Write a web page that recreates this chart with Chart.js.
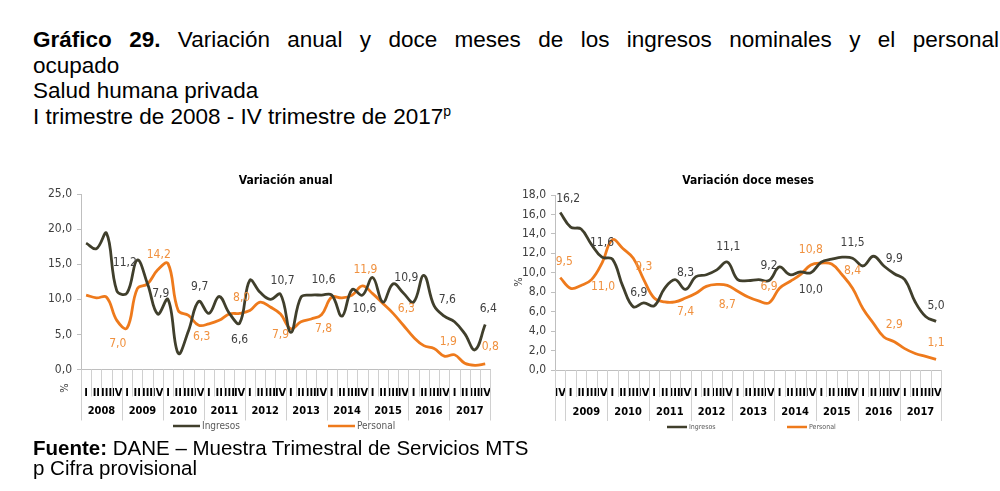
<!DOCTYPE html>
<html>
<head>
<meta charset="utf-8">
<script src="https://cdn.jsdelivr.net/npm/chart.js@4.4.1/dist/chart.umd.min.js"></script>
<style>
  body { margin: 0; width: 1000px; height: 491px; background: #fff; position: relative; overflow: hidden;
         font-family: 'Liberation Sans', Arial, sans-serif; color: #000; }
  #title { position: absolute; left: 33px; top: 27px; width: 966px; font-size: 22.5px; line-height: 25.7px; }
  #title .l1 { text-align: justify; text-align-last: justify; white-space: nowrap; }
  #title sup { font-size: 14px; vertical-align: 8px; line-height: 0; }
  #foot { position: absolute; left: 33px; top: 438px; font-size: 20.5px; line-height: 20px; }
  .box { position: absolute; top: 166px; height: 280px; }
  #left { left: 20px; width: 480px; }
  #right { left: 500px; width: 460px; }
</style>
</head>
<body>
<div id="title">
  <div class="l1"><b>Gráfico 29.</b> Variación anual y doce meses de los ingresos nominales y el personal</div>
  <div>ocupado</div>
  <div>Salud humana privada</div>
  <div>I trimestre de 2008 - IV trimestre de 2017<sup>p</sup></div>
</div>
<div class="box" id="left"><canvas id="c1" width="480" height="280"></canvas></div>
<div class="box" id="right"><canvas id="c2" width="460" height="280"></canvas></div>
<div id="foot">
  <div><b>Fuente:</b> DANE – Muestra Trimestral de Servicios MTS</div>
  <div>p Cifra provisional</div>
</div>
<script>
// quarters and years
const q = ['I', 'II', 'III', 'IV'];
const anualQuarters = [].concat(q, q, q, q, q, q, q, q, q, q);          // 2008 I - 2017 IV
const doceQuarters = ['IV'].concat(q, q, q, q, q, q, q, q, q);          // 2008 IV - 2017 IV
const anualYears = ['2008', '2009', '2010', '2011', '2012', '2013', '2014', '2015', '2016', '2017'];
const doceYears = ['', '2009', '2010', '2011', '2012', '2013', '2014', '2015', '2016', '2017'];

// Variación anual (%)
const anualIngresos = [18.0, 17.2, 19.4, 11.2, 10.9, 15.6, 12.2, 7.9, 10.0, 2.3,
  5.5, 9.7, 8.0, 10.4, 8.0, 6.6, 12.7, 11.0, 10.0, 10.7,
  5.3, 10.3, 10.6, 10.6, 10.6, 7.6, 11.4, 10.6, 13.1, 9.6,
  12.2, 10.9, 9.6, 13.4, 9.1, 7.6, 6.8, 5.1, 2.8, 6.4];
const anualPersonal = [10.6, 10.2, 10.3, 7.0, 5.9, 11.5, 12.2, 14.2, 15.1, 8.4,
  7.7, 6.3, 6.5, 7.0, 7.9, 8.0, 8.4, 9.6, 8.9, 7.9,
  5.8, 6.8, 7.2, 7.8, 10.3, 10.2, 10.6, 11.9, 10.8, 9.4,
  8.0, 6.3, 4.6, 3.4, 3.0, 1.9, 2.1, 0.9, 0.6, 0.8];

// Variación doce meses (%)
const doceIngresos = [16.2, 14.7, 14.5, 12.9, 11.6, 11.4, 8.6, 6.5, 6.9, 6.6,
  8.4, 9.3, 8.3, 9.6, 9.8, 10.3, 11.1, 9.3, 9.2, 9.3,
  9.2, 10.6, 9.8, 10.1, 10.0, 11.1, 11.4, 11.6, 11.5, 10.7,
  11.7, 10.7, 9.9, 9.3, 7.0, 5.5, 5.0];
const docePersonal = [9.5, 8.4, 8.7, 9.3, 11.0, 13.4, 12.5, 11.5, 9.3, 7.4,
  7.0, 7.0, 7.4, 7.9, 8.6, 8.8, 8.7, 8.1, 7.5, 7.1,
  6.9, 8.4, 9.1, 9.8, 10.8, 11.0, 10.9, 9.8, 8.4, 6.3,
  4.8, 3.4, 2.9, 2.2, 1.7, 1.4, 1.1];

// value labels: [index, text]
const anualIngLabels = [[3, '11,2'], [7, '7,9'], [11, '9,7'], [15, '6,6'], [19, '10,7'],
  [23, '10,6'], [27, '10,6'], [31, '10,9'], [35, '7,6'], [39, '6,4']];
const anualPerLabels = [[3, '7,0'], [7, '14,2'], [11, '6,3'], [15, '8,0'], [19, '7,9'],
  [23, '7,8'], [27, '11,9'], [31, '6,3'], [35, '1,9'], [39, '0,8']];
const doceIngLabels = [[0, '16,2'], [4, '11,6'], [8, '6,9'], [12, '8,3'], [16, '11,1'],
  [20, '9,2'], [24, '10,0'], [28, '11,5'], [32, '9,9'], [36, '5,0']];
const docePerLabels = [[0, '9,5'], [4, '11,0'], [8, '9,3'], [12, '7,4'], [16, '8,7'],
  [20, '6,9'], [24, '10,8'], [28, '8,4'], [32, '2,9'], [36, '1,1']];

const DARK = '#403f2c';
const ORANGE = '#ee7a1c';
const NARROW = "'Liberation Sans Narrow', 'Arial Narrow', 'DejaVu Sans Condensed', sans-serif";

const pointLabels = {
  id: 'pointLabels',
  afterDatasetsDraw(chart, args, opts) {
    const ctx = chart.ctx;
    ctx.save();
    ctx.font = '12px ' + NARROW;
    ctx.textAlign = 'center';
    ctx.textBaseline = 'middle';
    opts.sets.forEach((set, d) => {
      const meta = chart.getDatasetMeta(d);
      ctx.fillStyle = set.color;
      set.items.forEach(([i, text], k) => {
        const pt = meta.data[i];
        const n = set.nudge[k];
        ctx.fillText(text, pt.x + n[0], pt.y + n[1]);
      });
    });
    ctx.restore();
  }
};

const yearAxis = {
  id: 'yearAxis',
  afterDraw(chart, args, opts) {
    const ctx = chart.ctx, x = chart.scales.x, area = chart.chartArea;
    const labels = chart.data.labels, n = labels.length;
    const half = (x.getPixelForTick(1) - x.getPixelForTick(0)) / 2;
    ctx.save();
    ctx.strokeStyle = '#d0d0d0';
    ctx.lineWidth = 1;
    const starts = [];
    for (let i = 0; i <= n; i++) {
      const bx = i < n ? x.getPixelForTick(i) - half : x.getPixelForTick(n - 1) + half;
      const isYear = i === 0 || i === n || labels[i] === 'I';
      if (isYear) starts.push(bx);
      ctx.beginPath();
      ctx.moveTo(Math.round(bx) + 0.5, area.bottom);
      ctx.lineTo(Math.round(bx) + 0.5, area.bottom + (isYear ? 51 : 27));
      ctx.stroke();
    }
    ctx.fillStyle = '#000';
    ctx.font = 'bold 11px ' + NARROW;
    ctx.textAlign = 'center';
    ctx.textBaseline = 'middle';
    opts.years.forEach((y, g) => {
      ctx.fillText(y, (starts[g] + starts[g + 1]) / 2, area.bottom + 42);
    });
    // % sign
    ctx.save();
    ctx.translate(opts.pct[0], opts.pct[1]);
    ctx.rotate(-Math.PI / 2);
    ctx.font = '11px ' + NARROW;
    ctx.fillStyle = '#404040';
    ctx.fillText('%', 0, 0);
    ctx.restore();
    // legend
    ctx.font = opts.legend.font;
    ctx.textAlign = 'left';
    chart.data.datasets.forEach((ds, d) => {
      const lx = opts.legend.x[d], ly = opts.legend.y;
      ctx.strokeStyle = ds.borderColor;
      ctx.lineWidth = 2.5;
      ctx.beginPath();
      ctx.moveTo(lx, ly);
      ctx.lineTo(lx + opts.legend.len, ly);
      ctx.stroke();
      ctx.fillStyle = '#595959';
      ctx.fillText(ds.label, lx + opts.legend.len + 2, ly);
    });
    ctx.restore();
  }
};

function makeChart(id, cfg) {
  return new Chart(document.getElementById(id), {
    type: 'line',
    data: {
      labels: cfg.labels,
      datasets: [
        { label: 'Ingresos', data: cfg.ing, borderColor: DARK, backgroundColor: DARK },
        { label: 'Personal', data: cfg.per, borderColor: ORANGE, backgroundColor: ORANGE }
      ]
    },
    options: {
      responsive: false,
      animation: false,
      elements: {
        line: { borderWidth: 2.8, tension: 0.4, fill: false },
        point: { radius: 0 }
      },
      layout: { padding: { top: 0, right: cfg.padRight, bottom: cfg.padBottom, left: 0 } },
      scales: {
        x: {
          offset: true,
          grid: { display: false },
          border: { display: true, color: '#bfbfbf' },
          ticks: { autoSkip: false, maxRotation: 0, minRotation: 0, padding: 9,
                   color: '#000', font: { family: NARROW, size: 11, weight: 'bold' } },
          afterFit(s) { s.height = 40; }
        },
        y: {
          min: 0, max: cfg.max,
          grid: { drawOnChartArea: false, drawTicks: true, tickLength: 4, color: '#bfbfbf' },
          border: { display: true, color: '#bfbfbf' },
          ticks: { stepSize: cfg.step, padding: 5, color: '#404040',
                   font: { family: NARROW, size: 12 },
                   callback: v => v.toFixed(1).replace('.', ',') },
          afterFit(s) { s.width = cfg.yWidth; }
        }
      },
      plugins: {
        legend: { display: false },
        tooltip: { enabled: false },
        title: { display: true, text: cfg.title, fullSize: false, color: '#000',
                 font: { family: NARROW, size: 12, weight: 'bold' },
                 padding: { top: 8, bottom: cfg.titleBottom } },
        pointLabels: { sets: [
          { color: '#404040', items: cfg.ingLabels, nudge: cfg.ingNudge },
          { color: '#f0913f', items: cfg.perLabels, nudge: cfg.perNudge }
        ] },
        yearAxis: { years: cfg.years, pct: cfg.pct, legend: cfg.legend }
      }
    },
    plugins: [pointLabels, yearAxis]
  });
}

makeChart('c1', {
  labels: anualQuarters, ing: anualIngresos, per: anualPersonal,
  title: 'Variación anual', max: 25, step: 5, yWidth: 61, padRight: 9, padBottom: 36.5, titleBottom: 5.6,
  years: anualYears, pct: [45, 222],
  legend: { x: [153, 308], y: 260, len: 27, font: '10px ' + NARROW },
  ingLabels: anualIngLabels,
  ingNudge: [[8, -28], [3, -20], [1, -15], [0, 17], [2, -14], [2, -15], [2, 14], [3, -15], [3, -16], [3, -16]],
  perLabels: anualPerLabels,
  perNudge: [[1, 24], [1, -15], [3, 12], [2, -15], [0, 21], [2, 14], [3, -16], [3, -16], [4, -14], [5, -17]]
});

makeChart('c2', {
  labels: doceQuarters, ing: doceIngresos, per: docePersonal,
  title: 'Variación doce meses', max: 18, step: 2, yWidth: 55, padRight: 18.7, padBottom: 36, titleBottom: 6.6,
  years: doceYears, pct: [19, 116],
  legend: { x: [167, 287], y: 261, len: 20, font: '7px ' + NARROW },
  ingLabels: doceIngLabels,
  ingNudge: [[8, -14], [0, -14], [-5, -10], [0, -16], [1, -15], [0, -15], [0, 17], [0, -15], [0, -15], [0, -16]],
  perLabels: docePerLabels,
  perNudge: [[4, -16], [1, 24], [0, -13], [0, 14], [0, 19], [0, -16], [0, -15], [0, -17], [0, -17], [0, -16]]
});
</script>
</body>
</html>
